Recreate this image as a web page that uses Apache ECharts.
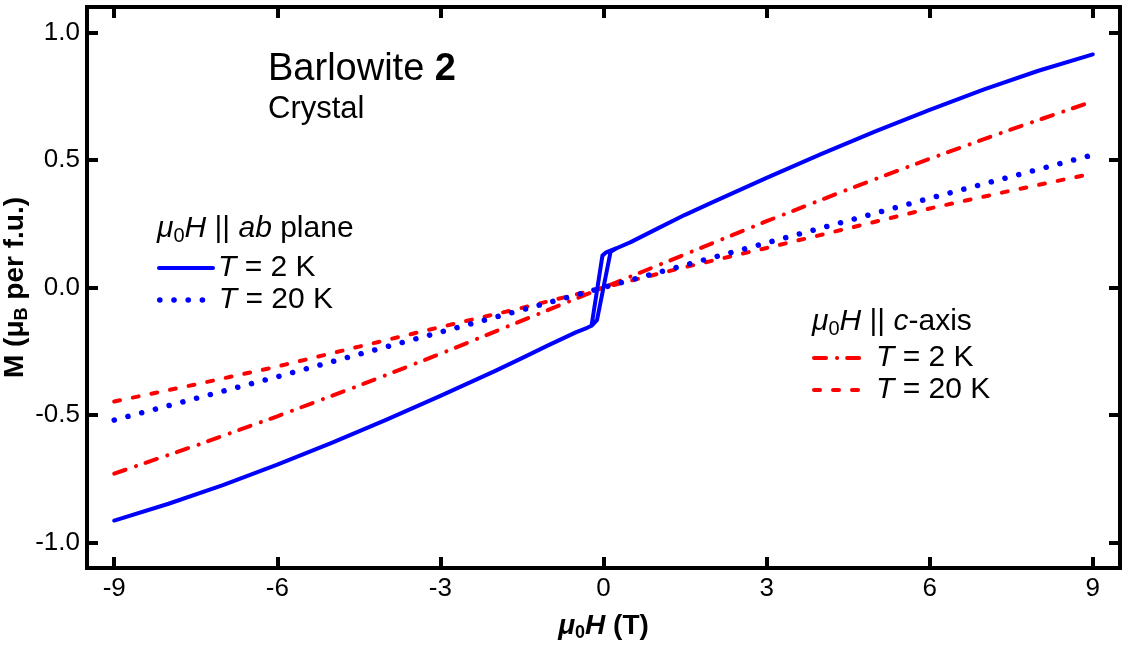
<!DOCTYPE html>
<html>
<head>
<meta charset="utf-8">
<script src="https://cdn.jsdelivr.net/npm/echarts@6/dist/echarts.min.js"></script>
<style>
html,body{margin:0;padding:0;background:#fff;}
#chart{width:1123px;height:646px;}
</style>
</head>
<body>
<div id="chart"></div>
<script>
// ---- data ----
// H || ab plane, T = 2 K : down sweep then up sweep (hysteresis near zero)
const fieldAb2Down  = [9, 8, 7, 6, 5, 4, 3, 2, 1.5, 1, 0.5, 0.24, 0.15, 0.05, -0.02, -0.22, -0.3, -0.5, -1, -1.5, -2, -3, -4, -5, -6, -7, -8, -9];
const momentAb2Down = [0.914, 0.85, 0.777, 0.697, 0.612, 0.523, 0.43, 0.334, 0.285, 0.232, 0.178, 0.154, 0.147, 0.138, 0.125, -0.150, -0.158, -0.175, -0.225, -0.277, -0.328, -0.425, -0.519, -0.609, -0.695, -0.775, -0.848, -0.914];
const fieldAb2Up    = [-9, -8, -7, -6, -5, -4, -3, -2, -1.5, -1, -0.5, -0.3, -0.22, -0.12, 0.13, 0.24, 0.5, 1, 1.5, 2, 3, 4, 5, 6, 7, 8, 9];
const momentAb2Up   = [-0.914, -0.848, -0.775, -0.695, -0.609, -0.519, -0.425, -0.328, -0.277, -0.225, -0.175, -0.158, -0.150, -0.128, 0.140, 0.154, 0.178, 0.232, 0.285, 0.334, 0.43, 0.523, 0.612, 0.697, 0.777, 0.85, 0.914];
// common field grid for the other three curves
const fieldGrid     = [-9, -7.5, -6, -4.5, -3, -1.5, 0, 1.5, 3, 4.5, 6, 7.5, 9];
const momentAb20    = [-0.52, -0.435, -0.35, -0.262, -0.175, -0.088, 0, 0.088, 0.175, 0.262, 0.35, 0.435, 0.52];
const momentC2      = [-0.73, -0.62, -0.505, -0.385, -0.26, -0.13, 0, 0.13, 0.26, 0.385, 0.505, 0.62, 0.73];
const momentC20     = [-0.447, -0.38, -0.31, -0.232, -0.155, -0.08, 0, 0.08, 0.155, 0.232, 0.31, 0.38, 0.447];
// ticks
const xTicks = [-9, -6, -3, 0, 3, 6, 9];
const yTicks = [-1.0, -0.5, 0.0, 0.5, 1.0];

const FONT = 'Liberation Sans, Arial, Helvetica, sans-serif';
const BLUE = '#0000ff';
const RED = '#ff0000';

function pairs(xs, ys) { return xs.map((x, i) => [x, ys[i]]); }
const ab2Data = pairs(fieldAb2Down, momentAb2Down).concat(pairs(fieldAb2Up, momentAb2Up));
const ab20Data = pairs(fieldGrid, momentAb20);
const c2Data = pairs(fieldGrid, momentC2);
const c20Data = pairs(fieldGrid, momentC20);

const axisLineStyle = { color: '#000', width: 4, cap: 'square' };
const tickStyle = { color: '#000', width: 4 };

function headRich(size) {
  return {
    n:  { fontFamily: FONT, fontSize: size, fontWeight: 'normal', color: '#000', lineHeight: size + 4 },
    i:  { fontFamily: FONT, fontSize: size, fontWeight: 'normal', fontStyle: 'italic', color: '#000', lineHeight: size + 4 },
    s:  { fontFamily: FONT, fontSize: Math.round(size * 0.65), fontWeight: 'normal', color: '#000', lineHeight: Math.round(size * 0.65), verticalAlign: 'bottom' }
  };
}
const itemRich = {
  i: { fontFamily: FONT, fontSize: 30, fontWeight: 'normal', fontStyle: 'italic', color: '#000', lineHeight: 34 },
  n: { fontFamily: FONT, fontSize: 30, fontWeight: 'normal', color: '#000', lineHeight: 34 }
};
const legendLabels = {
  'ab 2 K': '{i|T}{n| = 2 K}',
  'ab 20 K': '{i|T}{n| = 20 K}',
  'c 2 K': '{i|T}{n| = 2 K}',
  'c 20 K': '{i|T}{n| = 20 K}'
};
function legendFor(name, left, top, itemWidth, width, textPad) {
  return {
    data: [name], left: left, top: top, padding: 0, orient: 'vertical',
    itemWidth: itemWidth, itemHeight: 14, selectedMode: false,
    lineStyle: { width: width, cap: 'round' },
    itemStyle: { opacity: 0 },
    formatter: n => legendLabels[n],
    textStyle: { fontFamily: FONT, fontSize: 30, color: '#000', lineHeight: 34, padding: [0, 0, 0, textPad], rich: itemRich }
  };
}

const chart = echarts.init(document.getElementById('chart'), null, { renderer: 'canvas' });
chart.setOption({
  animation: false,
  backgroundColor: '#fff',
  grid: { left: 87, right: 3, top: 7, bottom: 78, containLabel: false, outerBoundsMode: 'none' },
  title: [
    { text: '{n|Barlowite }{b|2}', left: 268, top: 50, padding: 0,
      textStyle: { fontWeight: 'normal', rich: {
        n: { fontFamily: FONT, fontSize: 38, fontWeight: 'normal', color: '#000', lineHeight: 40 },
        b: { fontFamily: FONT, fontSize: 38, fontWeight: 'bold', color: '#000', lineHeight: 40 } } } },
    { text: 'Crystal', left: 268, top: 93, padding: 0,
      textStyle: { fontFamily: FONT, fontSize: 31, fontWeight: 'normal', color: '#000', lineHeight: 33 } },
    { text: '{i|μ}{s|0}{i|H}{n| || }{i|ab}{n| plane}', left: 157, top: 212, padding: 0,
      textStyle: { fontWeight: 'normal', rich: headRich(30) } },
    { text: '{i|μ}{s|0}{i|H}{n| || }{i|c}{n|-axis}', left: 812, top: 305, padding: 0,
      textStyle: { fontWeight: 'normal', rich: headRich(30) } }
  ],
  legend: [
    legendFor('ab 2 K', 157, 251, 54, 4, 0),
    legendFor('ab 20 K', 157, 283, 54, 5.5, 0),
    legendFor('c 2 K', 812, 341, 48, 4, 9),
    legendFor('c 20 K', 812, 373, 48, 4, 9)
  ],
  xAxis: [
    { type: 'value', min: -9.5, max: 9.5, position: 'bottom',
      axisLine: { show: true, onZero: false, lineStyle: axisLineStyle },
      axisTick: { show: true, inside: true, length: 11, lineStyle: tickStyle, customValues: xTicks },
      axisLabel: { show: true, customValues: xTicks, fontFamily: FONT, fontSize: 26, color: '#000', margin: 8,
        formatter: v => String(v) },
      splitLine: { show: false },
      name: '{bi|μ}{bs|0}{bi|H}{b| (T)}', nameLocation: 'middle', nameGap: 42,
      nameTextStyle: { rich: {
        bi: { fontFamily: FONT, fontSize: 28, fontWeight: 'bold', fontStyle: 'italic', color: '#000', lineHeight: 32 },
        bs: { fontFamily: FONT, fontSize: 18, fontWeight: 'bold', color: '#000', lineHeight: 18, verticalAlign: 'bottom' },
        b:  { fontFamily: FONT, fontSize: 28, fontWeight: 'bold', color: '#000', lineHeight: 32 } } } },
    { type: 'value', min: -9.5, max: 9.5, position: 'top',
      axisLine: { show: true, onZero: false, lineStyle: axisLineStyle },
      axisTick: { show: true, inside: true, length: 11, lineStyle: tickStyle, customValues: xTicks },
      axisLabel: { show: false },
      splitLine: { show: false } }
  ],
  yAxis: [
    { type: 'value', min: -1.1, max: 1.1, position: 'left',
      axisLine: { show: true, onZero: false, lineStyle: axisLineStyle },
      axisTick: { show: true, inside: true, length: 11, lineStyle: tickStyle, customValues: yTicks },
      axisLabel: { show: true, customValues: yTicks, fontFamily: FONT, fontSize: 26, color: '#000', margin: 7,
        formatter: v => v.toFixed(1) },
      splitLine: { show: false },
      name: '{b|M (μ}{bs|B}{b| per f.u.)}', nameLocation: 'middle', nameRotate: 90, nameGap: 56,
      nameMoveOverlap: false,
      nameTextStyle: { rich: {
        b:  { fontFamily: FONT, fontSize: 28, fontWeight: 'bold', color: '#000', lineHeight: 32 },
        bs: { fontFamily: FONT, fontSize: 18, fontWeight: 'bold', color: '#000', lineHeight: 18, verticalAlign: 'bottom' } } } },
    { type: 'value', min: -1.1, max: 1.1, position: 'right',
      axisLine: { show: true, onZero: false, lineStyle: axisLineStyle },
      axisTick: { show: true, inside: true, length: 11, lineStyle: tickStyle, customValues: yTicks },
      axisLabel: { show: false },
      splitLine: { show: false } }
  ],
  series: [
    { name: 'c 20 K', type: 'line', xAxisIndex: 0, yAxisIndex: 0, data: c20Data, symbol: 'none', showSymbol: false,
      lineStyle: { color: RED, width: 4, type: [6, 13], cap: 'round' }, itemStyle: { color: RED } },
    { name: 'c 2 K', type: 'line', xAxisIndex: 0, yAxisIndex: 0, data: c2Data, symbol: 'none', showSymbol: false,
      lineStyle: { color: RED, width: 4, type: [12, 11, 0.1, 10], cap: 'round' }, itemStyle: { color: RED } },
    { name: 'ab 20 K', type: 'line', xAxisIndex: 0, yAxisIndex: 0, data: ab20Data, symbol: 'none', showSymbol: false,
      lineStyle: { color: BLUE, width: 5.5, type: [0.1, 14.1], cap: 'round' }, itemStyle: { color: BLUE } },
    { name: 'ab 2 K', type: 'line', xAxisIndex: 0, yAxisIndex: 0, data: ab2Data, symbol: 'none', showSymbol: false,
      lineStyle: { color: BLUE, width: 4, type: 'solid', cap: 'round', join: 'round' }, itemStyle: { color: BLUE } }
  ]
});
</script>
</body>
</html>
